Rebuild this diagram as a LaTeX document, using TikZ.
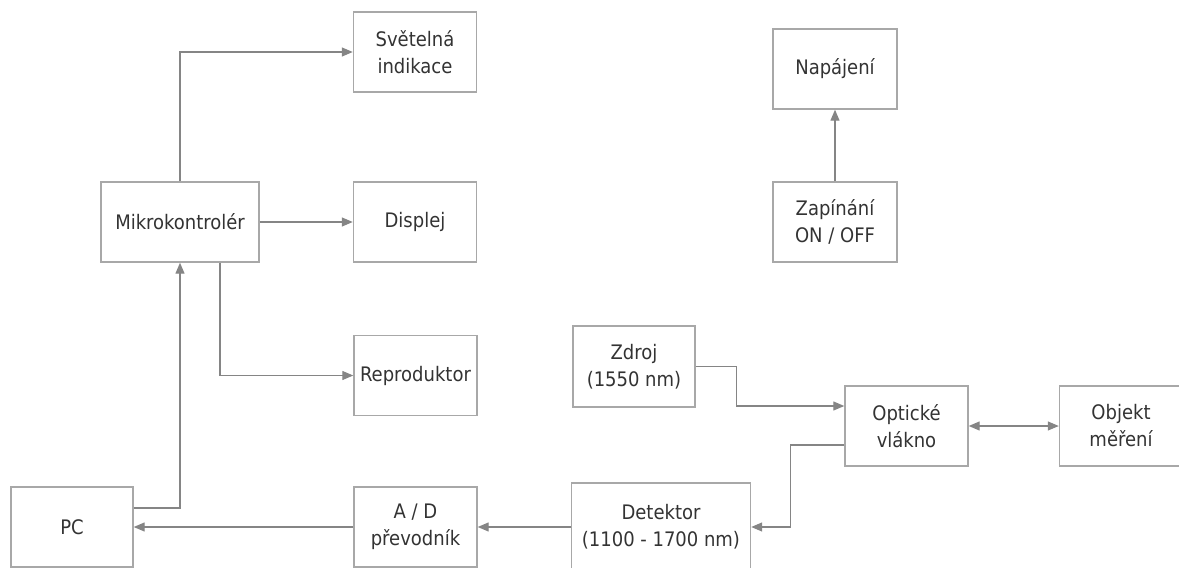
\documentclass[tikz,border=0pt]{standalone}
\usepackage{fontspec}
\setmainfont{DejaVu Sans Condensed}
\usepackage{tikz}
\usetikzlibrary{arrows.meta}
\definecolor{linegray}{HTML}{858585}
\definecolor{boxgray}{HTML}{A8A8A8}
\definecolor{textgray}{HTML}{333333}
\tikzset{
  blok/.style={draw=boxgray, line width=1.4pt, text=textgray, align=center,
    minimum width=123pt, minimum height=80pt, inner sep=0pt,
    font=\fontsize{20}{27}\selectfont},
  spoj/.style={draw=linegray, line width=1.2pt, -{Triangle[length=11pt,width=9pt]}},
  spojobe/.style={spoj, {Triangle[length=11pt,width=9pt]}-{Triangle[length=11pt,width=9pt]}}
}
\begin{document}
\begin{tikzpicture}[x=1pt, y=-1pt]
    \useasboundingbox (0,0) rectangle (1179,568);
    % bloky
    \node[blok] (svetlo) at (415,52) {Světelná\\indikace};
    \node[blok, minimum width=158pt] (mcu) at (180,222) {Mikrokontrolér};
    \node[blok] (displej) at (415,222) {Displej};
    \node[blok] (repro) at (415.5,375.5) {Reproduktor};
    \node[blok, minimum width=122pt] (pc) at (72,527) {PC};
    \node[blok] (adc) at (415.5,527) {A / D\\převodník};
    \node[blok, minimum width=179pt, minimum height=88pt] (detektor) at (661,527) {Detektor\\(1100 - 1700 nm)};
    \node[blok, minimum width=122pt, minimum height=81pt] (zdroj) at (634,366.5) {Zdroj\\(1550 nm)};
    \node[blok] (vlakno) at (906.5,426) {Optické\\vlákno};
    \node[blok] (objekt) at (1121,426) {Objekt\\měření};
    \node[blok, minimum width=124pt] (napajeni) at (835,69) {Napájení};
    \node[blok, minimum width=124pt] (zapinani) at (835,222) {Zapínání\\ON / OFF};
    % spoje
    \draw[spoj] (mcu.north) |- (svetlo.west);
    \draw[spoj] (mcu.east) -- (displej.west);
    \draw[spoj] ([xshift=40pt]mcu.south) |- (repro.west);
    \draw[spoj] ([yshift=19pt]pc.east) -| (mcu.south);
    \draw[spoj] (adc.west) -- (pc.east);
    \draw[spoj] (detektor.west |- adc.east) -- (adc.east);
    \draw[spoj] (zdroj.east) -- ++(41,0) |- ([yshift=20pt]vlakno.west);
    \draw[spoj] ([yshift=-19pt]vlakno.west) -- ++(-54,0) |- (detektor.east);
    \draw[spojobe] (vlakno.east) -- (objekt.west);
    \draw[spoj] (zapinani.north) -- (napajeni.south);
\end{tikzpicture}
\end{document}
